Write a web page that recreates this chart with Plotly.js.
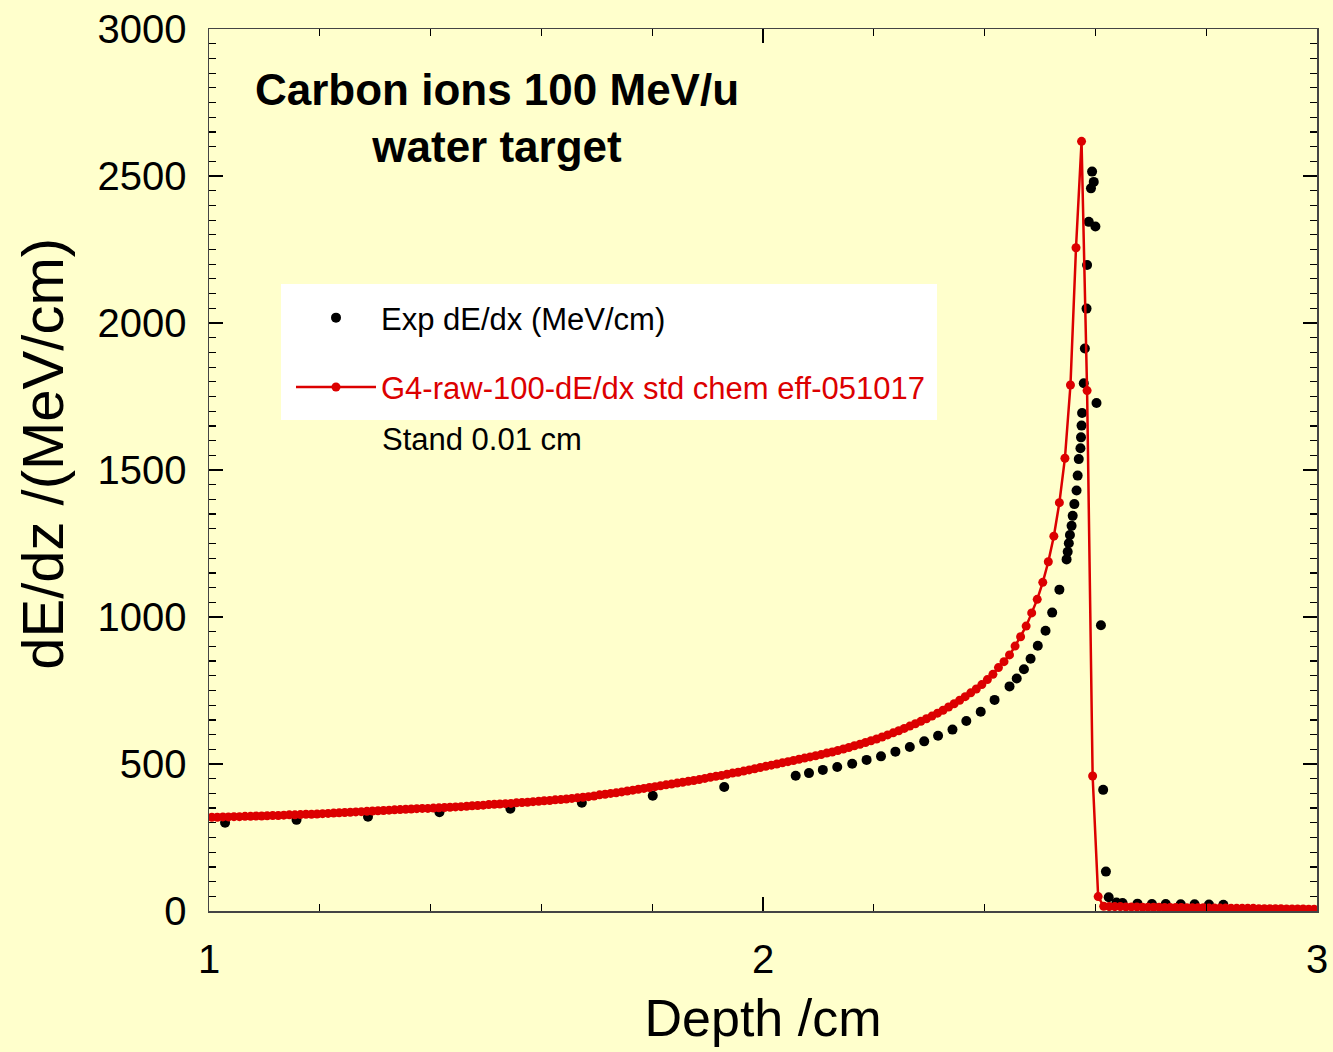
<!DOCTYPE html>
<html>
<head>
<meta charset="utf-8">
<script src="https://cdn.plot.ly/plotly-3.0.1.min.js"></script>
<style>
  html, body { margin: 0; padding: 0; background: #FFFFCC; }
  #chart { width: 1333px; height: 1052px; }
</style>
</head>
<body>
<div id="chart"></div>
<script>
// ---- Data ----
// Simulation (G4) : values every 0.01 cm, first bin centre at 1.005 cm
const simX0 = 1.005;
const simDx = 0.01;
const simValues = [
  319, 319, 320, 320, 321, 321, 322, 322, 323, 323,   // 1.005 - 1.095
  324, 325, 325, 326, 327, 327, 328, 329, 329, 330,   // 1.105 - 1.195
  331, 332, 333, 334, 335, 336, 337, 338, 339, 340,   // 1.205 - 1.295
  341, 342, 343, 344, 345, 346, 347, 348, 349, 349,   // 1.305 - 1.395
  350, 351, 352, 353, 354, 355, 356, 358, 359, 360,   // 1.405 - 1.495
  362, 363, 364, 365, 366, 368, 369, 370, 372, 373,   // 1.505 - 1.595
  375, 376, 378, 379, 381, 383, 385, 387, 389, 391,   // 1.605 - 1.695
  395, 397, 400, 402, 405, 408, 411, 414, 417, 420,   // 1.705 - 1.795
  423, 426, 429, 432, 435, 438, 441, 444, 447, 451,   // 1.805 - 1.895
  455, 458, 461, 465, 469, 472, 476, 480, 484, 488,   // 1.905 - 1.995
  492, 496, 500, 504, 508, 512, 516, 520, 524, 528,   // 2.005 - 2.095
  532, 537, 541, 546, 551, 556, 562, 567, 573, 579,   // 2.105 - 2.195
  585, 592, 599, 606, 613, 621, 629, 637, 645, 654,   // 2.205 - 2.295
  663, 673, 683, 694, 705, 717, 729, 742, 755, 770,   // 2.305 - 2.395
  787, 805, 828, 848, 871, 901, 933, 969, 1014, 1060, // 2.405 - 2.495
  1118, 1188, 1275, 1389, 1540, 1789, 2256, 2618, 1770, 459, // 2.505 - 2.595
  49, 16, 15, 15, 15, 14, 14, 14, 13, 13,             // 2.605 - 2.695
  13, 13, 12, 12, 12, 12, 11, 11, 11, 11,             // 2.705 - 2.795
  10, 10, 10, 10, 9, 9, 9, 9, 9, 8,                   // 2.805 - 2.895
  8, 8, 8, 8, 7, 7, 7, 7, 6, 6                        // 2.905 - 2.995
];

// Experimental points
const expDepth = [
  1.029, 1.158, 1.287, 1.416, 1.544, 1.673, 1.801, 1.930,
  2.059, 2.083, 2.108, 2.134, 2.161, 2.187, 2.213, 2.239, 2.265, 2.291,
  2.316, 2.342, 2.367, 2.393, 2.418, 2.445, 2.458, 2.471, 2.483, 2.496,
  2.510, 2.522, 2.535, 2.548, 2.550, 2.552, 2.554, 2.557, 2.559, 2.562,
  2.566, 2.568, 2.570, 2.573, 2.574, 2.575, 2.576, 2.579, 2.581, 2.584,
  2.585, 2.588, 2.592, 2.594, 2.597, 2.600, 2.602, 2.610, 2.614, 2.619,
  2.624, 2.638, 2.649, 2.676, 2.702, 2.727, 2.754, 2.779, 2.805, 2.831
];
const expValues = [
  300, 310, 321, 336, 348, 368, 392, 422,
  460, 469, 480, 490, 501, 514, 526, 542, 558, 577,
  596, 617, 646, 678, 718, 764, 791, 822, 858, 902,
  953, 1015, 1093, 1196, 1222, 1251, 1279, 1310, 1344, 1384,
  1430, 1481, 1537, 1574, 1611, 1651, 1694, 1795, 1913, 2049,
  2197, 2344, 2458, 2515, 2480, 2328, 1728, 972, 412, 134,
  47, 29, 27, 25, 24, 24, 23, 23, 22, 21
];

const xTickVals = [1, 2, 3];
const xTickText = ['1', '2', '3'];
const yTickVals = [0, 500, 1000, 1500, 2000, 2500, 3000];
const yTickText = ['0', '500', '1000', '1500', '2000', '2500', '3000'];

const expName = 'Exp dE/dx (MeV/cm)';
const simName = 'G4-raw-100-dE/dx std chem eff-051017';
const noteText = 'Stand 0.01 cm';
const titleLines = ['Carbon ions 100 MeV/u', 'water target'];
const xTitle = 'Depth /cm';
const yTitle = 'dE/dz /(MeV/cm)';

// ---- Styling ----
const FONT = 'Liberation Sans, Arial, Helvetica, sans-serif';
const BG = '#FFFFCC';
const RED = '#DC0000';
const W = 1333, H = 1052;
const M = { l: 209, r: 16, t: 29, b: 141 };

const traces = [
  {
    type: 'scatter', mode: 'markers', name: expName,
    x: expDepth, y: expValues,
    marker: { color: '#000000', size: 10 },
    legendgroup: 'a', cliponaxis: true
  },
  {
    type: 'scatter', mode: 'lines+markers',
    name: '<span style="color:' + RED + '">' + simName + '</span>',
    x0: simX0, dx: simDx, y: simValues,
    line: { color: RED, width: 2.5 },
    marker: { color: RED, size: 9 },
    legendgroup: 'b', cliponaxis: true
  }
];

function px2paperX(px) { return (px - M.l) / (W - M.l - M.r); }
function px2paperY(py) { return (H - M.b - py) / (H - M.t - M.b); }

const axisCommon = {
  showgrid: false, zeroline: false,
  showline: true, linecolor: '#444444', linewidth: 1.5,
  mirror: 'allticks', ticks: 'inside', tickcolor: '#000000',
  tickwidth: 1.2, ticklen: 14,
  tickfont: { family: FONT, size: 40, color: '#000000' },
  tickmode: 'array'
};

const layout = {
  width: W, height: H,
  margin: M,
  paper_bgcolor: BG, plot_bgcolor: BG,
  font: { family: FONT, color: '#000000' },
  title: {
    text: '<b>' + titleLines.join('<br>') + '</b>',
    font: { family: FONT, size: 44, color: '#000000' },
    xref: 'container', x: 497 / W, xanchor: 'center',
    yref: 'container', y: 1 - 105 / H, yanchor: 'top'
  },
  xaxis: Object.assign({}, axisCommon, {
    range: [1, 3], tickvals: xTickVals, ticktext: xTickText,
    ticklabelstandoff: 12,
    minor: { dtick: 0.2, ticks: 'inside', ticklen: 7, tickcolor: '#000000', tickwidth: 1.2 },
    title: { text: xTitle, font: { family: FONT, size: 52, color: '#000000' }, standoff: 20 }
  }),
  yaxis: Object.assign({}, axisCommon, {
    range: [0, 3000], tickvals: yTickVals, ticktext: yTickText,
    ticklabelstandoff: 13,
    minor: { dtick: 50, ticks: 'inside', ticklen: 7, tickcolor: '#000000', tickwidth: 1.2 },
    title: { text: '&nbsp;&nbsp;' + yTitle, font: { family: FONT, size: 58, color: '#000000' }, standoff: 15 }
  }),
  showlegend: true,
  legend: {
    x: px2paperX(291), y: px2paperY(291), xanchor: 'left', yanchor: 'top',
    bgcolor: 'rgba(0,0,0,0)', borderwidth: 0,
    font: { family: FONT, size: 31, color: '#000000' },
    traceorder: 'grouped', tracegroupgap: 26, itemwidth: 80
  },
  shapes: [
    { type: 'rect', xref: 'paper', yref: 'paper', layer: 'below',
      x0: px2paperX(281), x1: px2paperX(937), y0: px2paperY(420), y1: px2paperY(284),
      fillcolor: '#FFFFFF', line: { width: 0 } }
  ],
  annotations: [
    { text: noteText, xref: 'paper', yref: 'paper', x: px2paperX(380), y: px2paperY(440),
      xanchor: 'left', yanchor: 'middle', showarrow: false,
      font: { family: FONT, size: 31, color: '#000000' } }
  ]
};

Plotly.newPlot('chart', traces, layout, { displayModeBar: false, staticPlot: true });
</script>
</body>
</html>
